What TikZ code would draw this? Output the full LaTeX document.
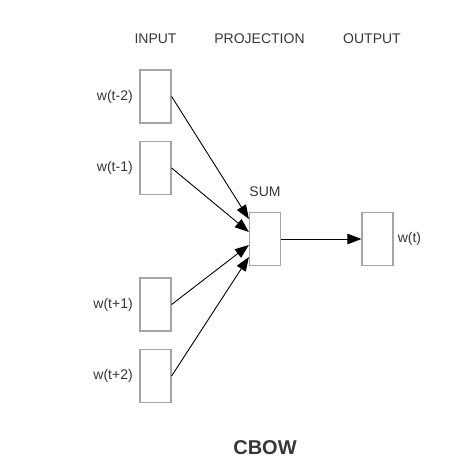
\documentclass[tikz,border=0pt]{standalone}
\usepackage{fontspec}
\setmainfont{Liberation Sans}
\usepackage{xcolor}
\usepackage{tikz}
\usetikzlibrary{
    positioning,
    arrows.meta
}
\definecolor{boxGray}{RGB}{165, 165, 165}
\definecolor{textGray}{RGB}{55, 55, 55}

\begin{document}
\begin{tikzpicture}[x=1pt, y=-1pt,
        word/.style={draw=boxGray, line width=1.2pt, fill=white,
            minimum width=31pt, minimum height=53pt, inner sep=0pt},
        lbl/.style={text=textGray, inner sep=1pt,
            font=\fontsize{14}{16}\selectfont},
        conn/.style={-{Triangle[length=14pt, width=10.5pt]}, line width=0.9pt}
    ]
            \useasboundingbox (0, 0) rectangle (469, 474);

            % Layer titles
            \node[lbl] (tIn) at (155.5, 38.5) {INPUT};
            \node[lbl] (tProj) at (259.5, 38.5) {PROJECTION};
            \node[lbl] (tOut) at (372, 38.5) {OUTPUT};

            % Context words
            \node[word] (w1) at (155.5, 96.5) {};
            \node[word] (w2) at (155.5, 168) {};
            \node[word] (w3) at (155.5, 304.5) {};
            \node[word] (w4) at (155.5, 376) {};
            \node[lbl, left=5.5pt of w1] (lw1) {w(t-2)};
            \node[lbl, left=5.5pt of w2] (lw2) {w(t-1)};
            \node[lbl, left=5.5pt of w3] (lw3) {w(t+1)};
            \node[lbl, left=5.5pt of w4] (lw4) {w(t+2)};

            % Projection and output
            \node[word] (sum) at (265, 239) {};
            \node[word] (out) at (377.5, 239) {};
            \node[lbl] (lSum) at (265, 191.5) {SUM};
            \node[lbl, right=3pt of out] (lOut) {w(t)};

            \draw[conn] (w1.east) -- ([yshift=20pt]sum.west);
            \draw[conn] (w2.east) -- ([yshift=7pt]sum.west);
            \draw[conn] (w3.east) -- ([yshift=-6pt]sum.west);
            \draw[conn] (w4.east) -- ([yshift=-18pt]sum.west);
            \draw[conn] (sum) -- (out);

            \node[text=textGray, font=\fontsize{20}{23}\selectfont\bfseries] (title) at (265, 448) {CBOW};
        \end{tikzpicture}
\end{document}
